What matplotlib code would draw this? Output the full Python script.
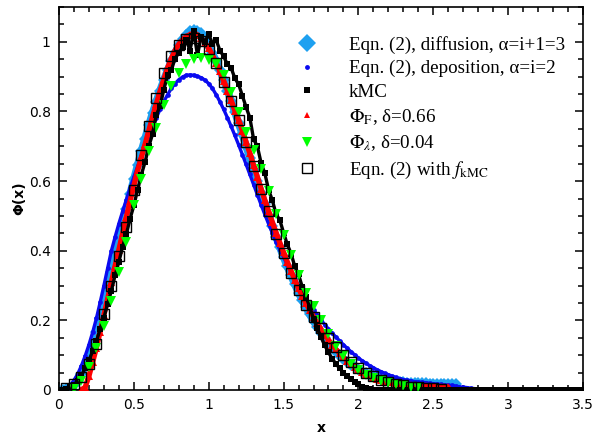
import numpy as np
import matplotlib
matplotlib.use('Agg')
import matplotlib.pyplot as plt
from matplotlib.lines import Line2D

plt.rcParams['mathtext.fontset'] = 'stix'

STEP = 0.025

# Eqn. (2), diffusion, alpha=3 (x = 0, 0.025, ...)
diff_x0 = 0.0
diff_y = [
    0.000, 0.000, 0.002, 0.006, 0.014, 0.027, 0.045, 0.068, 0.097, 0.130,
    0.168, 0.208, 0.250, 0.295, 0.340, 0.385, 0.430, 0.475, 0.520, 0.563,
    0.605, 0.645, 0.685, 0.722, 0.760, 0.795, 0.828, 0.860, 0.890, 0.918,
    0.944, 0.968, 0.990, 1.007, 1.020, 1.030, 1.035, 1.032, 1.024, 1.008,
    0.988, 0.967, 0.944, 0.918, 0.890, 0.860, 0.830, 0.798, 0.766, 0.734,
    0.700, 0.667, 0.633, 0.600, 0.566, 0.533, 0.500, 0.470, 0.440, 0.410,
    0.382, 0.355, 0.329, 0.304, 0.280, 0.258, 0.237, 0.217, 0.198, 0.180,
    0.164, 0.149, 0.135, 0.122, 0.110, 0.099, 0.089, 0.080, 0.072, 0.065,
    0.059, 0.053, 0.048, 0.044, 0.040, 0.036, 0.033, 0.030, 0.028, 0.026,
    0.024, 0.023, 0.022, 0.021, 0.020, 0.020, 0.019, 0.019, 0.019, 0.018,
    0.018, 0.018, 0.018, 0.018, 0.018, 0.018, 0.018,
]

# Eqn. (2), deposition, alpha=2 (x = 0, 0.025, ...)
dep_x0 = 0.0
dep_y = [
    0.000, 0.002, 0.006, 0.014, 0.028, 0.046, 0.070, 0.098, 0.130, 0.166,
    0.206, 0.252, 0.300, 0.350, 0.400, 0.440, 0.478, 0.513, 0.547, 0.580,
    0.612, 0.642, 0.672, 0.702, 0.730, 0.757, 0.782, 0.806, 0.828, 0.848,
    0.866, 0.880, 0.891, 0.899, 0.904, 0.905, 0.904, 0.901, 0.897, 0.890,
    0.880, 0.866, 0.848, 0.828, 0.806, 0.782, 0.757, 0.731, 0.704, 0.676,
    0.648, 0.619, 0.590, 0.561, 0.532, 0.504, 0.477, 0.451, 0.426, 0.403,
    0.381, 0.360, 0.339, 0.319, 0.299, 0.280, 0.262, 0.246, 0.230, 0.215,
    0.201, 0.188, 0.175, 0.163, 0.152, 0.141, 0.130, 0.120, 0.110, 0.101,
    0.092, 0.084, 0.077, 0.070, 0.064, 0.058, 0.053, 0.048, 0.044, 0.040,
    0.036, 0.033, 0.030, 0.028, 0.026, 0.024, 0.023, 0.022, 0.021, 0.019,
    0.018, 0.017, 0.016, 0.015, 0.014, 0.013, 0.011, 0.009, 0.008, 0.007,
    0.005, 0.004, 0.003, 0.002, 0.002, 0.001, 0.001, 0.001,
]

# kMC (x = 0, 0.025, ... 3.5)
kmc_x0 = 0.0
kmc_y = [
    0.000, 0.001, 0.003, 0.008, 0.015, 0.027, 0.042, 0.062, 0.085, 0.112,
    0.140, 0.175, 0.208, 0.248, 0.285, 0.330, 0.368, 0.412, 0.448, 0.492,
    0.530, 0.575, 0.618, 0.655, 0.700, 0.735, 0.790, 0.815, 0.862, 0.905,
    0.918, 0.952, 0.968, 0.985, 1.005, 0.975, 1.030, 0.962, 1.015, 1.000,
    1.022, 0.995, 1.005, 0.975, 0.958, 0.935, 0.925, 0.895, 0.878, 0.845,
    0.812, 0.782, 0.720, 0.700, 0.652, 0.622, 0.575, 0.545, 0.505, 0.488,
    0.452, 0.418, 0.392, 0.355, 0.332, 0.296, 0.268, 0.238, 0.205, 0.178,
    0.152, 0.128, 0.108, 0.090, 0.075, 0.062, 0.050, 0.040, 0.032, 0.024,
    0.017, 0.010, 0.006, 0.002, 0.000, 0.000, 0.000, 0.000, 0.000, 0.000,
    0.000, 0.000, 0.000, 0.000, 0.000, 0.000, 0.000, 0.000, 0.000, 0.000,
    0.000, 0.000, 0.000, 0.000, 0.000, 0.000, 0.000, 0.000, 0.000, 0.000,
    0.000, 0.000, 0.000, 0.000, 0.000, 0.000, 0.000, 0.000, 0.000, 0.000,
    0.000, 0.000, 0.000, 0.000, 0.000, 0.000, 0.000, 0.000, 0.000, 0.000,
    0.000, 0.000, 0.000, 0.000, 0.000, 0.000, 0.000, 0.000, 0.000, 0.000,
    0.000,
]

# Phi_F, delta=0.66 (x = 0.15, 0.175, ...)
phif_x0 = 0.15
phif_y = [
    0.000, 0.008, 0.040, 0.080, 0.122, 0.168, 0.215, 0.262,
    0.310, 0.357, 0.403, 0.450, 0.497, 0.543, 0.587, 0.630, 0.668, 0.706,
    0.745, 0.785, 0.822, 0.858, 0.892, 0.925, 0.952, 0.975, 0.993, 1.006,
    1.015, 1.021, 1.023, 1.020, 1.011, 0.998, 0.982, 0.962, 0.940, 0.915,
    0.888, 0.860, 0.832, 0.802, 0.775, 0.745, 0.712, 0.680, 0.645, 0.612,
    0.578, 0.545, 0.513, 0.482, 0.452, 0.423, 0.395, 0.368, 0.342, 0.316,
    0.292, 0.270, 0.249, 0.229, 0.210, 0.192, 0.175, 0.159, 0.144, 0.130,
    0.117, 0.105, 0.094, 0.084, 0.075, 0.067, 0.060, 0.053, 0.047, 0.042,
    0.037, 0.033, 0.030, 0.027, 0.024, 0.022, 0.020, 0.018, 0.017, 0.015,
    0.014, 0.013, 0.012, 0.011, 0.011, 0.010, 0.010, 0.009, 0.009, 0.008, 0.008,
]

# Phi_lambda, delta=0.04 (x = 0.10, 0.15, ...)
phil_x0 = 0.10
phil_step = 0.05
phil_y = [
    0.003, 0.025, 0.065, 0.120, 0.184, 0.255, 0.340, 0.425, 0.530, 0.605,
    0.685, 0.752, 0.818, 0.872, 0.911, 0.937, 0.950, 0.953, 0.947, 0.935,
    0.905, 0.857, 0.798, 0.742, 0.690, 0.635, 0.572, 0.505, 0.445, 0.388,
    0.330, 0.280, 0.240, 0.202, 0.162, 0.126, 0.098, 0.076, 0.058, 0.044,
    0.035, 0.026, 0.020, 0.016, 0.012, 0.010, 0.008,
]

# Eqn. (2) with f_kMC (x = 0.05, 0.10, ...)
fkmc_x0 = 0.05
fkmc_step = 0.05
fkmc_y = [
    0.006, 0.016, 0.038, 0.076, 0.133, 0.217, 0.300, 0.384, 0.468, 0.573,
    0.675, 0.757, 0.840, 0.910, 0.958, 0.992, 1.009, 1.012, 1.002, 0.978,
    0.940, 0.884, 0.829, 0.775, 0.711, 0.643, 0.576, 0.513, 0.448, 0.393,
    0.336, 0.288, 0.245, 0.209, 0.177, 0.150, 0.124, 0.101, 0.081, 0.064,
    0.050, 0.039, 0.030, 0.023, 0.018, 0.014, 0.010, 0.008, 0.006, 0.005,
    0.004,
]

labels = [
    'Eqn. (2), diffusion, α=i+1=3',
    'Eqn. (2), deposition, α=i=2',
    'kMC',
    r'$\Phi_{\mathrm{F}}$, δ=0.66',
    r'$\Phi_{\lambda}$, δ=0.04',
    r'Eqn. (2) with $f_{\mathrm{kMC}}$',
]


def xs(x0, step, y):
    return x0 + step * np.arange(len(y))


fig = plt.figure(figsize=(6.02, 4.38), dpi=100)
ax = fig.add_axes([0.098, 0.1096, 0.8704, 0.8744])

c_lb = '#1ea0f0'
c_blue = '#0a0af0'
c_green = '#00ff00'

# dense symbol bands: a line of the same colour under the symbols
ax.plot(xs(diff_x0, STEP, diff_y), diff_y, '-D', color=c_lb, lw=5.5, ms=6,
        mew=0, solid_capstyle='round', zorder=2)
ax.plot(xs(dep_x0, STEP, dep_y), dep_y, '-o', color=c_blue, lw=2.4, ms=3.4,
        mew=0, solid_capstyle='round', zorder=3)
ax.plot(xs(phif_x0, STEP, phif_y), phif_y, '-^', color='red', lw=3.8, ms=5.5,
        mew=0, solid_capstyle='round', zorder=4)
kx = xs(kmc_x0, STEP, kmc_y)
ky = np.array(kmc_y)
live = kx <= 2.1
ax.plot(kx[live], ky[live], '-', color='black', lw=2.4, zorder=5)
ax.plot(kx, ky, 's', color='black', ms=3.8, mew=0, zorder=5)
ax.plot(xs(phil_x0, phil_step, phil_y), phil_y, 'v', color=c_green, ms=7.5, mew=0, zorder=6)
ax.plot(xs(fkmc_x0, fkmc_step, fkmc_y), fkmc_y, 's', mfc='none', mec='black',
        ms=7, mew=1.0, zorder=7)

handles = [
    Line2D([], [], ls='none', marker='D', color=c_lb, ms=9.5, mew=0),
    Line2D([], [], ls='none', marker='o', color=c_blue, ms=3.5, mew=0),
    Line2D([], [], ls='none', marker='s', color='black', ms=3.8, mew=0),
    Line2D([], [], ls='none', marker='^', color='red', ms=5, mew=0),
    Line2D([], [], ls='none', marker='v', color=c_green, ms=7.5, mew=0),
    Line2D([], [], ls='none', marker='s', mfc='none', mec='black', ms=6.5, mew=1.0),
]
ax.legend(handles, labels, loc='upper left', bbox_to_anchor=(0.455, 0.925),
          frameon=False, handlelength=1.0, handletextpad=1.7, borderpad=0,
          borderaxespad=0, labelspacing=0.33,
          prop={'family': 'Liberation Serif', 'size': 13.7})

ax.set_xlim(0, 3.5)
ax.set_ylim(0, 1.1)
ax.set_xticks(np.arange(0, 3.51, 0.5))
ax.set_xticks(np.arange(0, 3.51, 0.1), minor=True)
ax.set_yticks(np.arange(0, 1.01, 0.2))
ax.set_yticks(np.arange(0, 1.101, 0.05), minor=True)
ax.set_xticklabels(['0', '0.5', '1', '1.5', '2', '2.5', '3', '3.5'])
ax.set_yticklabels(['0', '0.2', '0.4', '0.6', '0.8', '1'])
ax.tick_params(which='both', direction='in', top=True, right=True,
               labelsize=10, width=1.1, pad=6)
ax.tick_params(which='major', length=6)
ax.tick_params(which='minor', length=3.5)
for s in ax.spines.values():
    s.set_linewidth(1.2)

ax.set_xlabel('x', fontweight='bold', fontsize=10, labelpad=6)
ax.set_ylabel('Φ(x)', fontweight='bold', fontsize=10, labelpad=2)

fig.savefig('out.png', dpi=100)
